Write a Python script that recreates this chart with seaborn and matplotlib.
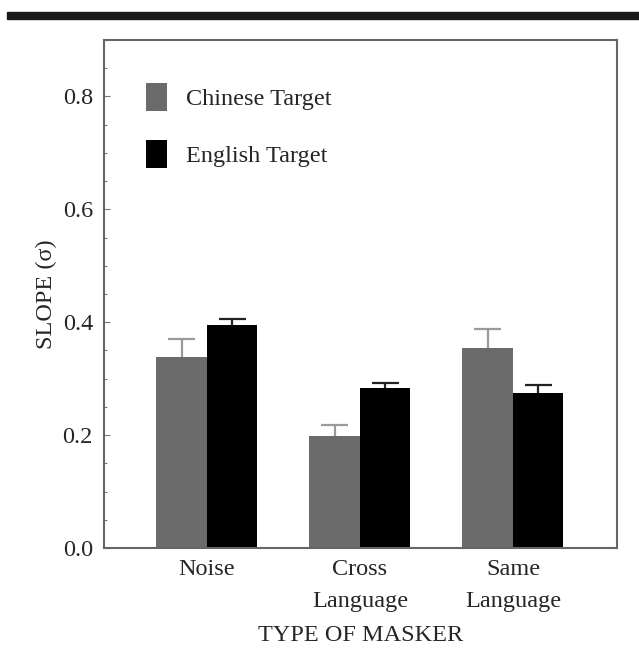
import pandas as pd
import numpy as np
import matplotlib
matplotlib.use('Agg')
import matplotlib.pyplot as plt
from matplotlib.patches import Rectangle
from matplotlib.ticker import MultipleLocator, FormatStrFormatter
import seaborn as sns

maskers = ['Noise', 'Cross\nLanguage', 'Same\nLanguage']
targets = ['Chinese Target', 'English Target']
chinese_slope = [0.338, 0.198, 0.355]
english_slope = [0.395, 0.283, 0.274]
chinese_err = [0.032, 0.020, 0.033]
english_err = [0.011, 0.010, 0.015]

df = pd.DataFrame({
    'masker': maskers * 2,
    'target': [targets[0]] * 3 + [targets[1]] * 3,
    'slope': chinese_slope + english_slope,
    'err': chinese_err + english_err,
})

sns.set_style('white')
plt.rcParams['font.family'] = ['Liberation Serif', 'DejaVu Serif']
FS = 17.5

fig = plt.figure(figsize=(6.39, 6.62), dpi=100)
ax = fig.add_axes([104 / 639, 1 - 548 / 662, 513 / 639, 508 / 662])

palette = {targets[0]: '#6b6b6b', targets[1]: '#000000'}
sns.barplot(data=df, x='masker', y='slope', hue='target', order=maskers,
            hue_order=targets, palette=palette, width=0.66, saturation=1,
            edgecolor='none', linewidth=0, ax=ax, legend=True)

# error bars, upper half only
err_colors = {targets[0]: '#9a9a9a', targets[1]: '#222222'}
for container, t in zip(ax.containers, targets):
    sub = df[df['target'] == t].set_index('masker').loc[maskers]
    for b, top, e in zip(container, sub['slope'], sub['err']):
        xc = b.get_x() + b.get_width() / 2
        hw = b.get_width() * 0.27
        ax.vlines(xc, top, top + e, color=err_colors[t], lw=1.6, zorder=3)
        ax.hlines(top + e, xc - hw, xc + hw, color=err_colors[t], lw=1.6,
                  zorder=3)

ax.set_xlim(-0.673, 2.68)
ax.set_ylim(0, 0.9)
ax.yaxis.set_major_locator(MultipleLocator(0.2))
ax.yaxis.set_minor_locator(MultipleLocator(0.05))
ax.yaxis.set_major_formatter(FormatStrFormatter('%.1f'))
ax.tick_params(axis='y', which='major', direction='in', length=4, width=0.8,
               color='#777777', labelsize=FS, pad=8, left=True)
ax.tick_params(axis='y', which='minor', direction='in', length=2.5, width=0.8,
               color='#777777', left=True)
ax.tick_params(axis='x', length=0, labelsize=FS, pad=8)
for lbl in ax.get_xticklabels():
    lbl.set_linespacing(1.7)

for s in ax.spines.values():
    s.set_color('#666666')
    s.set_linewidth(1.5)

ax.set_xlabel('TYPE OF MASKER', fontsize=FS, labelpad=9)
ax.set_ylabel('SLOPE (σ)', fontsize=FS, labelpad=4)

ax.legend(loc='upper left', bbox_to_anchor=(0.062, 0.935), frameon=False,
          fontsize=FS, handlelength=0.9, handleheight=1.4, labelspacing=1.2,
          handletextpad=0.75, borderaxespad=0)

fig.patches.append(Rectangle((7 / 639, 1 - 19 / 662), 632 / 639, 7 / 662,
                             transform=fig.transFigure, color='#1a1a1a'))

fig.savefig('out.png', dpi=100)
